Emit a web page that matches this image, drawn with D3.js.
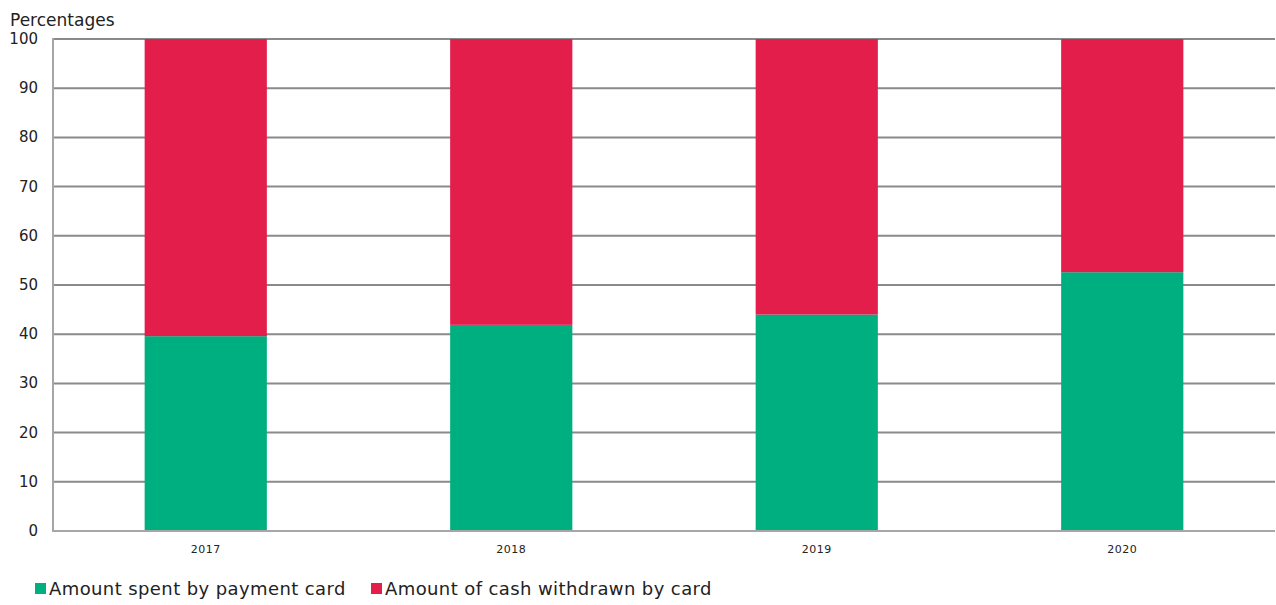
<!DOCTYPE html>
<html>
<head>
<meta charset="utf-8">
<script src="https://cdn.jsdelivr.net/npm/d3@7"></script>
<style>
  body { margin: 0; background: #fff; }
  text { font-family: Verdana, "DejaVu Sans", sans-serif; fill: #222; }
</style>
</head>
<body>
<svg id="chart" width="1276" height="605"></svg>
<script>
let years = ['2017', '2018', '2019', '2020']
let spent = [39.6, 41.9, 44.0, 52.6]
let withdrawn = [60.4, 58.1, 56.0, 47.4]
let seriesNames = ['Amount spent by payment card', 'Amount of cash withdrawn by card']
let seriesColors = ['#00af80', '#e31e4a']
let yTicks = [0, 10, 20, 30, 40, 50, 60, 70, 80, 90, 100]

let svg = d3.select('#chart')
let plotLeft = 53, plotRight = 1275, plotTop = 39, plotBottom = 531

let x = d3.scaleBand()
    .domain(years)
    .range([plotLeft, plotRight])
    .paddingInner(0.6)
    .paddingOuter(0.3)

let y = d3.scaleLinear()
    .domain([0, 100])
    .range([plotBottom, plotTop])

// gridlines
svg.append('g')
    .selectAll('line')
    .data(yTicks.filter(d => d > 0))
    .enter().append('line')
    .attr('x1', plotLeft)
    .attr('x2', plotRight)
    .attr('y1', d => y(d))
    .attr('y2', d => y(d))
    .attr('stroke', '#8a8a8a')
    .attr('stroke-width', 2)

// stacked bars
let rows = years.map((yr, i) => ({year: yr, spent: spent[i], withdrawn: withdrawn[i]}))
let stack = d3.stack().keys(['spent', 'withdrawn'])(rows)

svg.append('g')
    .selectAll('g')
    .data(stack)
    .enter().append('g')
    .attr('fill', (d, i) => seriesColors[i])
    .selectAll('rect')
    .data(d => d)
    .enter().append('rect')
    .attr('x', d => x(d.data.year))
    .attr('width', x.bandwidth())
    .attr('y', d => y(d[1]))
    .attr('height', d => y(d[0]) - y(d[1]))

// axes lines
svg.append('line')
    .attr('x1', plotLeft).attr('x2', plotLeft)
    .attr('y1', plotTop - 1).attr('y2', plotBottom + 1)
    .attr('stroke', '#a6a6a6').attr('stroke-width', 2)
svg.append('line')
    .attr('x1', plotLeft).attr('x2', plotRight)
    .attr('y1', plotBottom).attr('y2', plotBottom)
    .attr('stroke', '#a6a6a6').attr('stroke-width', 2)

// y labels
svg.append('g')
    .selectAll('text')
    .data(yTicks)
    .enter().append('text')
    .attr('x', 38)
    .attr('y', d => y(d) + 5)
    .attr('text-anchor', 'end')
    .attr('font-size', 15)
    .text(d => d)

// x labels
svg.append('g')
    .selectAll('text')
    .data(years)
    .enter().append('text')
    .attr('x', d => x(d) + x.bandwidth() / 2)
    .attr('y', 553)
    .attr('text-anchor', 'middle')
    .attr('font-size', 11)
    .attr('letter-spacing', 0.5)
    .text(d => d)

svg.append('text')
    .attr('x', 10)
    .attr('y', 26)
    .attr('font-size', 17)
    .text('Percentages')

// legend
let legendX = [35, 371]
let legend = svg.append('g')
    .selectAll('g')
    .data(seriesNames)
    .enter().append('g')
    .attr('transform', (d, i) => `translate(${legendX[i]}, 0)`)
legend.append('rect')
    .attr('x', 0).attr('y', 583)
    .attr('width', 11).attr('height', 11)
    .attr('fill', (d, i) => seriesColors[i])
legend.append('text')
    .attr('x', 14)
    .attr('y', 595)
    .attr('font-size', 18)
    .attr('letter-spacing', 0.4)
    .text(d => d)
</script>
</body>
</html>
